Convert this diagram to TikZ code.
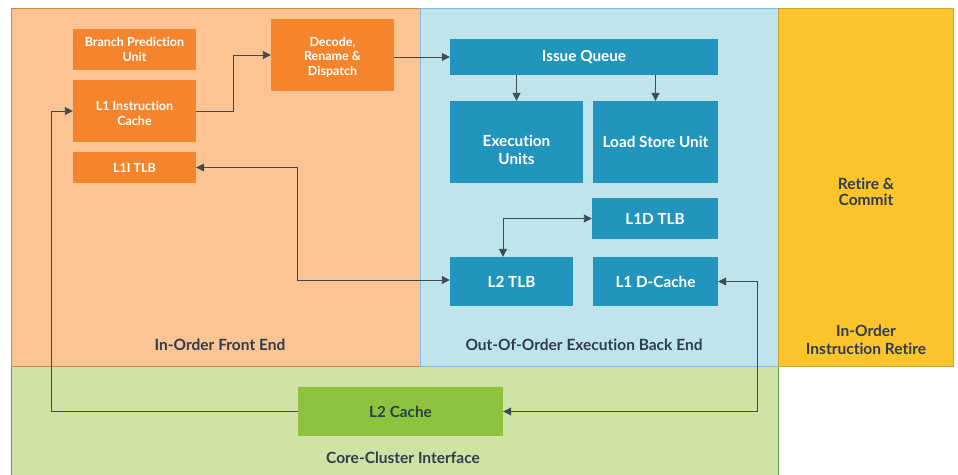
\documentclass[tikz,border=0pt]{standalone}
\usepackage{fontspec}
\setmainfont{Lato}[Ligatures={NoCommon}]
\usetikzlibrary{arrows.meta,calc}

\definecolor{txt}{HTML}{2C3E50}
\definecolor{wire}{HTML}{3E4B57}
\definecolor{frontfill}{HTML}{FCC492}
\definecolor{frontline}{HTML}{D08A47}
\definecolor{frontbox}{HTML}{F5852C}
\definecolor{backfill}{HTML}{BFE4EC}
\definecolor{backline}{HTML}{80BCE5}
\definecolor{backbox}{HTML}{2195BB}
\definecolor{retfill}{HTML}{FBC42A}
\definecolor{retline}{HTML}{C9A33C}
\definecolor{ccfill}{HTML}{D0E2A4}
\definecolor{ccline}{HTML}{5C9C48}
\definecolor{ccbox}{HTML}{8DC33F}

\tikzset{
  unit/.style={rectangle, inner sep=2pt, align=center, text=white,
    font=\bfseries\fontsize{15.3}{18}\selectfont},
  fbox/.style={unit, fill=frontbox, font=\bfseries\fontsize{12.5}{14.5}\selectfont},
  bbox/.style={unit, fill=backbox},
  gbox/.style={unit, fill=ccbox, text=txt},
  unittext/.style={text=white, align=center, font=\bfseries\fontsize{15.3}{18}\selectfont},
  area/.style={text=txt, align=center, font=\bfseries\fontsize{15.5}{17.5}\selectfont},
  wiretip/.style={wire, line width=0.9pt},
  arr/.style={wiretip, -{Triangle[length=8pt,width=8pt]}},
  biarr/.style={wiretip, {Triangle[length=8pt,width=8pt]}-{Triangle[length=8pt,width=8pt]}},
}

\begin{document}
\begin{tikzpicture}[x=1pt,y=-1pt]
\useasboundingbox (0,0) rectangle (958,474);

% pipeline regions
\filldraw[fill=ccfill, draw=ccline, line width=0.8pt] (11,480) -- (11,366) -- (778,366) -- (778,480);
\filldraw[fill=frontfill, draw=frontline, line width=0.8pt] (11,8) rectangle (420,366);
\filldraw[fill=backfill, draw=backline, line width=0.8pt] (420,8) rectangle (778,366);
\filldraw[fill=retfill, draw=retline, line width=0.8pt] (778,8) rectangle (953,366.5);

% region captions
\node[area] (frontcap) at (220,345) {In-Order Front End};
\node[area] (backcap) at (584,345) {Out-Of-Order Execution Back End};
\node[area] (cccap) at (403,458) {Core-Cluster Interface};
\node[area, font=\bfseries\fontsize{15.5}{18}\selectfont] (retcap) at (866,340) {In-Order\\Instruction Retire};
\node[area, font=\bfseries\fontsize{15.5}{16.5}\selectfont] (retire) at (866,192) {Retire \&\\Commit};

% front end units
\node[fbox, minimum width=123pt, minimum height=41pt] (bpu) at (134.5,49.5) {Branch Prediction\\Unit};
\node[fbox, minimum width=123pt, minimum height=62pt] (l1i) at (134.5,111) {};
\node[fbox, fill=none, text=white] (l1itext) at ($(l1i)+(0,2.5)$) {L1 Instruction\\Cache};
\node[fbox, minimum width=123pt, minimum height=31pt] (l1itlb) at (134.5,167.5) {L1I TLB};
\node[fbox, minimum width=123pt, minimum height=72pt] (dec) at (332.5,55) {};
\node[fbox, fill=none, text=white] (dectext) at ($(dec)+(0,2)$) {Decode,\\Rename \&\\Dispatch};

% back end units
\node[bbox, minimum width=268pt, minimum height=36pt] (iq) at (584,57) {Issue Queue};
\node[bbox, minimum width=133pt, minimum height=82pt] (exu) at (516.5,142) {};
\node[unittext] (exutext) at ($(exu)+(0,8)$) {Execution\\Units};
\node[bbox, minimum width=125pt, minimum height=82pt] (lsu) at (655.5,142) {Load Store Unit};
\node[bbox, minimum width=126pt, minimum height=41pt] (l1dtlb) at (655,218.5) {L1D TLB};
\node[bbox, minimum width=123pt, minimum height=49pt] (l2tlb) at (511.5,281.5) {L2 TLB};
\node[bbox, minimum width=125pt, minimum height=49pt] (l1dc) at (655.5,281.5) {L1 D-Cache};

% core-cluster interface
\node[gbox, minimum width=205pt, minimum height=49pt] (l2c) at (400.5,411.5) {L2 Cache};

% connectors
\draw[arr] (l1i.east) -- ++(37,0) |- (dec.west);
\draw[arr] (dec.east |- iq.west) -- (iq.west);
\draw[arr] (iq.south -| exu.north) -- (exu.north);
\draw[arr] (iq.south -| lsu.north) -- (lsu.north);
\draw[biarr] (l1dtlb.west) -| ($(l2tlb.north)+(-8.5,0)$);
\draw[biarr] (l1itlb.east) -- (l1itlb.east -| l2c.west) |- ($(l2tlb.west)+(0,-1.5)$);
\draw[arr] (l2c.west) -| ($(l1i.west)+(-21,0)$) -- (l1i.west);
\draw[biarr] (l1dc.east) -- ++(39,0) |- (l2c.east);
\end{tikzpicture}
\end{document}
